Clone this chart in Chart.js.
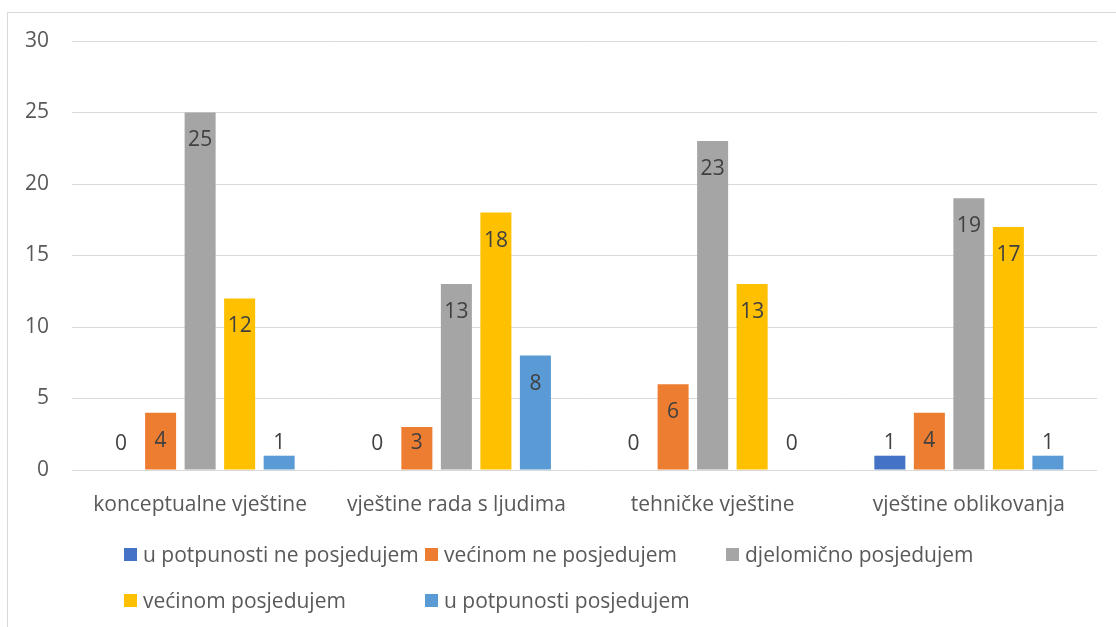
<!DOCTYPE html>
<html>
<head>
<meta charset="utf-8">
<script src="https://cdn.jsdelivr.net/npm/chart.js@4.4.1/dist/chart.umd.min.js"></script>
<style>
  html, body { margin: 0; padding: 0; background: #fff; }
  #wrap { position: relative; width: 1116px; height: 627px; overflow: hidden; font-family: "Open Sans", sans-serif; }
  #frame { position: absolute; left: 7px; top: 12px; width: 1200px; height: 700px; border: 1px solid #d9d9d9; box-sizing: border-box; }
  #chart { position: absolute; left: 0; top: 0; }
  #legend { position: absolute; left: 0; top: 0; width: 1116px; height: 627px; pointer-events: none; }
  .lg-item { position: absolute; display: flex; align-items: center; font-size: 21px; color: #595959; white-space: nowrap; }
  .lg-box { width: 13px; height: 13px; margin-right: 6px; }
</style>
</head>
<body>
<div id="wrap">
  <div id="frame"></div>
  <canvas id="chart" width="1116" height="627"></canvas>
  <div id="legend"></div>
</div>
<script>
// Kategorije i vrijednosti po odgovoru
const categories = ["konceptualne vještine", "vještine rada s ljudima", "tehničke vještine", "vještine oblikovanja"];
const seriesNames = ["u potpunosti ne posjedujem", "većinom ne posjedujem", "djelomično posjedujem", "većinom posjedujem", "u potpunosti posjedujem"];
const potpunoNe = [0, 0, 0, 1];
const vecinomNe = [4, 3, 6, 4];
const djelomicno = [25, 13, 23, 19];
const vecinom = [12, 18, 13, 17];
const potpuno = [1, 8, 0, 1];
const yTicks = [0, 5, 10, 15, 20, 25, 30];

(() => {
  const COLORS = ["#4472C4", "#ED7D31", "#A5A5A5", "#FFC000", "#5B9BD5"];
  const FONT = "'Open Sans', sans-serif";
  const values = [potpunoNe, vecinomNe, djelomicno, vecinom, potpuno];

  // Oznake vrijednosti "unutar kraja" stupca, kao u Excelu
  const valueLabels = {
    id: "valueLabels",
    afterDatasetsDraw(chart) {
      const { ctx } = chart;
      ctx.save();
      ctx.font = `21px ${FONT}`;
      ctx.fillStyle = "#404040";
      ctx.textAlign = "center";
      ctx.textBaseline = "middle";
      chart.data.datasets.forEach((ds, i) => {
        chart.getDatasetMeta(i).data.forEach((bar, j) => {
          const y = Math.min(bar.y + 28, bar.base - 26);
          ctx.fillText(String(ds.data[j]), bar.x, y);
        });
      });
      ctx.restore();
    }
  };

  const chart = new Chart(document.getElementById("chart"), {
    type: "bar",
    data: {
      labels: categories,
      datasets: seriesNames.map((name, i) => ({
        label: name,
        data: values[i],
        backgroundColor: COLORS[i],
        categoryPercentage: 0.771,
        barPercentage: 0.785
      }))
    },
    options: {
      responsive: false,
      animation: false,
      events: [],
      layout: { padding: { left: 8, right: 19, top: 41, bottom: 107 } },
      plugins: {
        legend: { display: false },
        tooltip: { enabled: false }
      },
      scales: {
        x: {
          grid: { display: false },
          border: { display: false },
          ticks: { color: "#595959", font: { family: FONT, size: 21 }, padding: 14 },
          afterFit: (scale) => { scale.height = 50; }
        },
        y: {
          min: 0,
          max: 30,
          afterBuildTicks: (scale) => { scale.ticks = yTicks.map(v => ({ value: v })); },
          grid: { color: "#d9d9d9", drawTicks: false },
          border: { display: false },
          ticks: { color: "#595959", font: { family: FONT, size: 21 }, padding: 23 },
          afterFit: (scale) => { scale.width = 64; }
        }
      }
    },
    plugins: [valueLabels]
  });

  // Legenda u dva reda, stupci fiksne širine
  const legend = document.getElementById("legend");
  const colX = [124, 425, 726];
  const rowY = [554, 600];
  chart.data.datasets.forEach((ds, i) => {
    const item = document.createElement("div");
    item.className = "lg-item";
    item.style.left = colX[i % 3] + "px";
    item.style.top = (rowY[Math.floor(i / 3)] - 14) + "px";
    item.style.height = "28px";
    item.innerHTML = `<span class="lg-box" style="background:${ds.backgroundColor}"></span><span>${ds.label}</span>`;
    legend.appendChild(item);
  });
})();
</script>
</body>
</html>
